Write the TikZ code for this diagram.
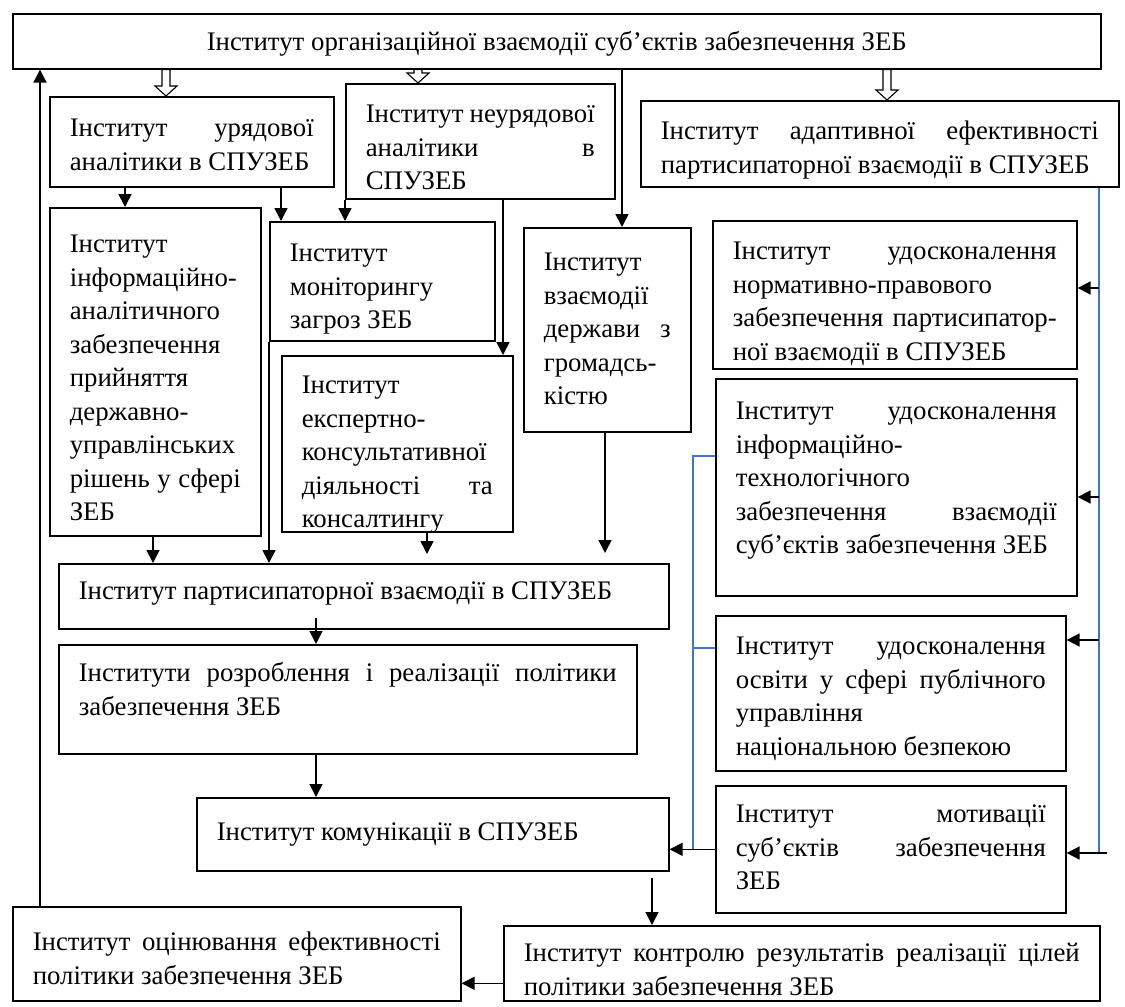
\documentclass[tikz,border=0pt]{standalone}
\usepackage{fontspec}
\setmainfont{Liberation Serif}
\usetikzlibrary{arrows.meta,calc}

\definecolor{lineblue}{RGB}{68,114,196}
% text block: width, height, first baseline, lines
\newcommand{\bt}[4]{\parbox[t][#2pt][t]{#1pt}{\rule{0pt}{#3pt}#4}}
% justified line / plain line
\newcommand{\jl}[1]{\makebox[\linewidth][s]{#1}}
\newcommand{\tl}[1]{\mbox{#1}}

\begin{document}
\begin{tikzpicture}[
  x=1pt, y=-1pt,
  font=\fontsize{26.8}{33.5}\selectfont,
  inst/.style={draw, line width=1.6pt, anchor=north west, inner xsep=20pt, inner ysep=0pt},
  arr/.style={-{Triangle[width=13pt,length=13pt]}, line width=1.6pt},
  link/.style={draw=lineblue, line width=1.3pt},
  hollowarr/.style={line width=1.1pt, fill=white, to path={let \p1=(\tikztostart), \p2=(\tikztotarget) in
    (\x1-4pt,\y1) -- (\x1-4pt,\y2+10pt) -- (\x1-11pt,\y2+10pt) -- (\x1,\y2) -- (\x1+11pt,\y2+10pt)
    -- (\x1+4pt,\y2+10pt) -- (\x1+4pt,\y1) -- cycle}}
]
\useasboundingbox (0,0) rectangle (1125,1007);

% upper row
\node[inst] (org) at (12,13) {\bt{1048}{55}{37}{\centering\tl{Інститут організаційної взаємодії суб’єктів забезпечення ЗЕБ}}};
\node[inst] (uriad) at (49,96) {\bt{244}{90}{40}{\jl{Інститут урядової}\\\tl{аналітики в СПУЗЕБ}}};
\node[inst] (neurjad) at (345,83) {\bt{229}{115}{39}{\jl{Інститут неурядової}\\\jl{аналітики в}\\СПУЗЕБ}};
\node[inst] (adapt) at (640,100) {\bt{438}{86}{39}{\jl{Інститут адаптивної ефективності}\\\tl{партисипаторної взаємодії в СПУЗЕБ}}};

% analytics and cooperation
\node[inst] (infanal) at (49,207) {\bt{171}{328}{45}{Інститут\\інформаційно-\\аналітичного\\забезпечення\\прийняття\\державно-\\управлінських\\\jl{рішень у сфері}\\ЗЕБ}};
\node[inst] (monit) at (269,221) {\bt{185}{119}{40}{Інститут\\моніторингу\\\tl{загроз ЗЕБ}}};
\node[inst] (expert) at (281,355) {\bt{191}{176}{38}{Інститут\\експертно-\\консультативної\\\jl{діяльності та}\\консалтингу}};
\node[inst] (derzh) at (523,227) {\bt{127}{204}{43}{Інститут\\взаємодії\\\jl{держави з}\\громадсь-\\кістю}};

% improvement column
\node[inst] (normat) at (712,220) {\bt{324}{148}{39}{\jl{Інститут удосконалення}\\\tl{нормативно-правового}\\\jl{забезпечення партисипатор-}\\\tl{ної взаємодії в СПУЗЕБ}}};
\node[inst] (inftech) at (715,378) {\bt{321}{217}{41}{\jl{Інститут удосконалення}\\інформаційно-\\технологічного\\\jl{забезпечення взаємодії}\\\tl{суб’єктів забезпечення ЗЕБ}}};
\node[inst] (osvity) at (715,615) {\bt{310}{155}{39}{\jl{Інститут удосконалення}\\\jl{освіти у сфері публічного}\\управління\\\tl{національною безпекою}}};
\node[inst] (motiv) at (715,785) {\bt{310}{127}{37}{\jl{Інститут мотивації}\\\jl{суб’єктів забезпечення}\\ЗЕБ}};

% policy chain
\node[inst] (partic) at (58,563) {\bt{570}{65}{36}{\tl{Інститут партисипаторної взаємодії в СПУЗЕБ}}};
\node[inst] (rozrob) at (58,644) {\bt{538}{109}{37}{\jl{Інститути розроблення і реалізації політики}\\\tl{забезпечення ЗЕБ}}};
\node[inst] (komun) at (196,797) {\bt{432}{73}{43}{\tl{Інститут комунікації в СПУЗЕБ}}};
\node[inst] (ocin) at (12,906) {\bt{408}{94}{44}{\jl{Інститут оцінювання ефективності}\\\tl{політики забезпечення ЗЕБ}}};
\node[inst] (kontr) at (503,925) {\bt{556}{75}{36}{\jl{Інститут контролю результатів реалізації цілей}\\\tl{політики забезпечення ЗЕБ}}};

% hollow arrows from the top
\draw[hollowarr] (166,0 |- org.south) to (166,0 |- uriad.north);
\draw[hollowarr] (418,0 |- org.south) to (418,0 |- neurjad.north);
\draw[hollowarr] (887,0 |- org.south) to (887,0 |- adapt.north);

\draw[arr] (622,0 |- org.south) -- (622,0 |- derzh.north);
\draw[arr] (125,0 |- uriad.south) -- (125,0 |- infanal.north);
\draw[arr] (281,0 |- uriad.south) -- (281,0 |- monit.north);
\draw[arr] (neurjad.south west) -- (neurjad.south west |- monit.north);
\draw[arr] (503,0 |- neurjad.south) -- (503,0 |- expert.north);

\draw[arr] (153,0 |- infanal.south) -- (153,0 |- partic.north);
\draw[arr] (monit.south west) -- (monit.south west |- partic.north);
\draw[arr, shorten >=9pt] (427,0 |- expert.south) -- (427,0 |- partic.north);
\draw[arr, shorten >=10pt] (605,0 |- derzh.south) -- (605,0 |- partic.north);
\draw[arr, shorten <=-12pt] (316,0 |- partic.south) -- (316,0 |- rozrob.north);
\draw[arr] (316,0 |- rozrob.south) -- (316,0 |- komun.north);
\draw[arr, shorten <=6pt] (652,0 |- komun.south) -- (652,0 |- kontr.north);

\coordinate (kin) at ($(kontr.west)+(0,20)$);
\draw[arr] (kin) -- (ocin.east |- kin);
\draw[arr] (40,0 |- ocin.north) -- (40,0 |- org.south);

% right rail
\coordinate (rail) at (1099,0 |- adapt.south);
\coordinate (railend) at (1099,853);
\draw[link] (rail) -- (railend);
\draw[arr] (1099,288) -- (normat.east |- 0,288);
\draw[arr] (1099,497) -- (inftech.east |- 0,497);
\draw[arr] (1099,640) -- (osvity.east |- 0,640);
\draw[arr] (1107,853) -- (motiv.east |- 0,853);

% left rail
\coordinate (lrail) at (693,456);
\draw[link] (inftech.west |- lrail) -- (lrail) -- (lrail |- motiv.west);
\draw[link] (693,648) -- (osvity.west |- 0,648);
\draw[arr] (motiv.west) -- (komun.east |- motiv.west);

\end{tikzpicture}
\end{document}
